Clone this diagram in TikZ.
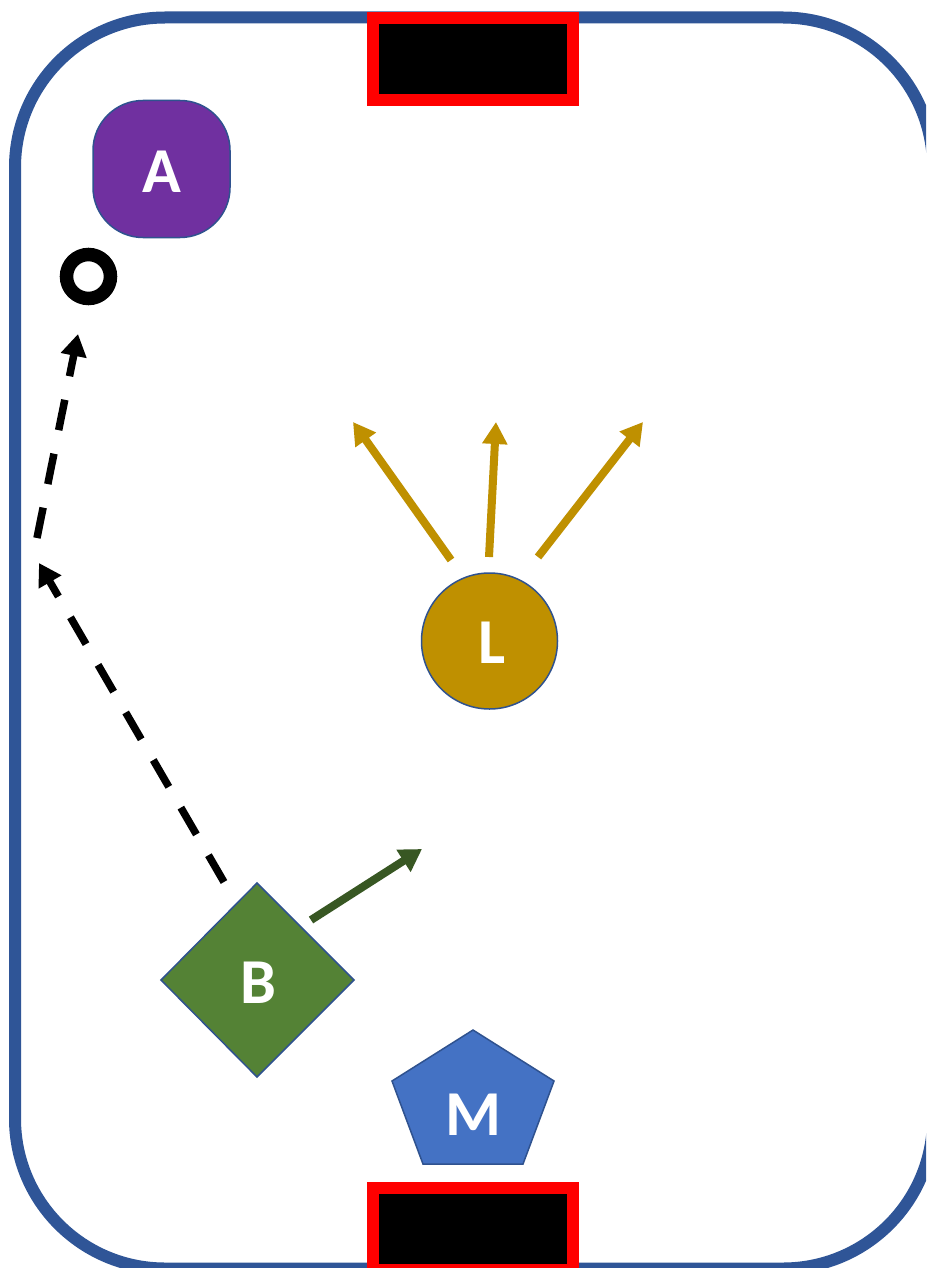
\documentclass[tikz,border=0pt]{standalone}
\usepackage{fontspec}
\setmainfont{Carlito}
\usetikzlibrary{arrows.meta}
\definecolor{rinkblue}{HTML}{2F5597}
\definecolor{edgeblue}{HTML}{2F528F}
\definecolor{apurple}{HTML}{7030A0}
\definecolor{lgold}{HTML}{BF9000}
\definecolor{bgreen}{HTML}{548235}
\definecolor{darkgreen}{HTML}{385723}
\definecolor{mblue}{HTML}{4472C4}
\definecolor{goalred}{HTML}{FF0000}
\tikzset{
  lbl/.style={text=white, font=\fontsize{64}{70}\selectfont\bfseries, inner sep=0pt},
  goalbox/.style={draw=goalred, line width=12pt, fill=black},
  dasharrow/.style={draw=black, line width=7.5pt, dash pattern=on 31pt off 24pt, -{Triangle[length=22pt,width=25pt]}},
  goldarrow/.style={draw=lgold, line width=8pt, -{Triangle[length=22pt,width=24pt]}},
  greenarrow/.style={draw=darkgreen, line width=8pt, -{Triangle[length=22pt,width=25pt]}},
  shapeedge/.style={draw=edgeblue, line width=1.5pt}
}
\begin{document}
\begin{tikzpicture}[x=1pt,y=-1pt]
\useasboundingbox (0,0) rectangle (926,1268);
\clip (0,0) rectangle (926,1268);
% rink
\draw[rinkblue, line width=12pt, rounded corners=150pt, fill=white] (15,17.5) rectangle (933,1268.5);
% goals
\draw[goalbox] (373,18) rectangle (573,100);
\draw[goalbox] (373,1188) rectangle (573,1270);
% A
\node[shapeedge, fill=apurple, rounded corners=50pt, minimum width=137pt, minimum height=137pt, inner sep=0pt] (A) at (161.5,169) {};
\node[lbl] (Alab) at (161.5,172) {A};
% ring
\node[draw=black, line width=13.5pt, circle, minimum size=44pt, inner sep=0pt] (ring) at (88.5,276.5) {};
% L
\node[shapeedge, fill=lgold, circle, minimum size=136pt, inner sep=0pt] (L) at (489.5,641) {};
\node[lbl] (Llab) at (492,642.5) {L};
% B diamond
\path[shapeedge, fill=bgreen] (257,883) -- (354,980) -- (257,1077) -- (161,980) -- cycle;
\node[inner sep=0pt, minimum size=1pt] (B) at (257,980) {};
\node[lbl] (Blab) at (258,982.5) {B};
% M pentagon
\path[shapeedge, fill=mblue] (473,1030) -- (554,1081) -- (523,1164) -- (423,1164) -- (392,1081) -- cycle;
\node[inner sep=0pt, minimum size=1pt] (M) at (473,1110) {};
\node[lbl] (Mlab) at (473,1115) {M};
% arrow endpoints
\coordinate (d1s) at (224,882);
\coordinate (d1e) at (39,563);
\coordinate (d2s) at (37,538);
\coordinate (d2e) at (78,334);
\coordinate (g1s) at (451,560);
\coordinate (g1e) at (353,422);
\coordinate (g2s) at (489,557);
\coordinate (g2e) at (496,422);
\coordinate (g3s) at (538,557);
\coordinate (g3e) at (643,422);
\coordinate (bgs) at (311,920);
\coordinate (bge) at (422,849);
% arrows
\draw[dasharrow] (d1s) -- (d1e);
\draw[dasharrow] (d2s) -- (d2e);
\draw[goldarrow] (g1s) -- (g1e);
\draw[goldarrow] (g2s) -- (g2e);
\draw[goldarrow] (g3s) -- (g3e);
\draw[greenarrow] (bgs) -- (bge);
\end{tikzpicture}
\end{document}
